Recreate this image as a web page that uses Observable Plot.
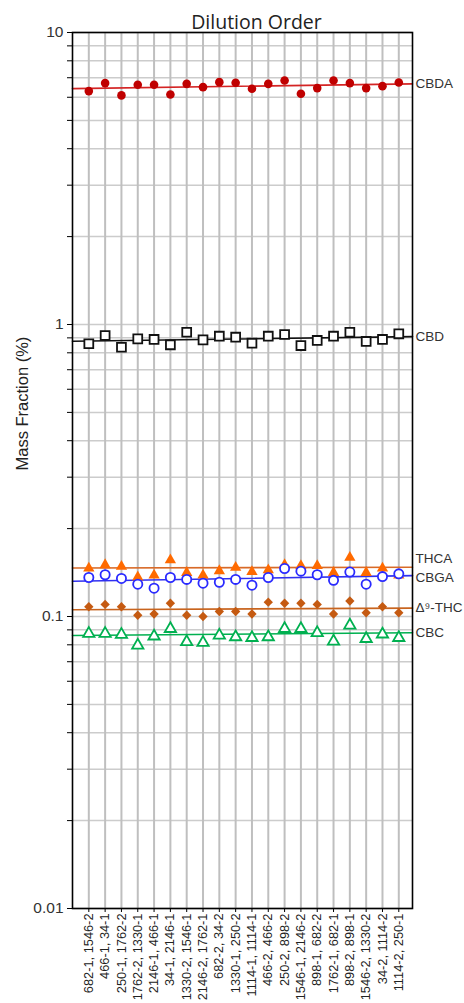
<!DOCTYPE html>
<html><head><meta charset="utf-8">
<script src="https://cdn.jsdelivr.net/npm/d3@7"></script>
<script src="https://cdn.jsdelivr.net/npm/@observablehq/plot@0.6"></script>
<style>body{margin:0;background:#fff;} #chart svg{display:block;}</style>
</head><body><div id="chart"></div>
<script>
const categories = ["682-1, 1546-2","466-1, 34-1","250-1, 1762-2","1762-2, 1330-1","2146-1, 466-1","34-1, 2146-1","1330-2, 1546-1","2146-2, 1762-1","682-2, 34-2","1330-1, 250-2","1114-1, 1114-1","466-2, 466-2","250-2, 898-2","1546-1, 2146-2","898-1, 682-2","1762-1, 682-1","898-2, 898-1","1546-2, 1330-2","34-2, 1114-2","1114-2, 250-1"];
const cbda = [6.30,6.71,6.09,6.62,6.62,6.13,6.67,6.50,6.76,6.73,6.42,6.67,6.85,6.17,6.45,6.85,6.71,6.45,6.55,6.74];
const cbd  = [0.859,0.917,0.836,0.893,0.889,0.852,0.941,0.886,0.912,0.905,0.863,0.912,0.924,0.847,0.882,0.912,0.941,0.875,0.889,0.929];
const thca = [0.148,0.152,0.150,0.138,0.140,0.158,0.143,0.140,0.145,0.149,0.144,0.146,0.152,0.151,0.151,0.143,0.161,0.143,0.148,0.140];
const cbga = [0.136,0.139,0.135,0.129,0.125,0.136,0.134,0.130,0.131,0.134,0.128,0.136,0.146,0.143,0.139,0.133,0.142,0.129,0.137,0.140];
const thc  = [0.108,0.110,0.108,0.101,0.102,0.111,0.101,0.100,0.104,0.104,0.102,0.112,0.111,0.111,0.110,0.102,0.113,0.103,0.108,0.103];
const cbc  = [0.0884,0.0884,0.0877,0.0806,0.0866,0.0919,0.0828,0.0823,0.0872,0.0861,0.0856,0.0861,0.0919,0.0919,0.0889,0.0832,0.0944,0.0849,0.0880,0.0856];
const seriesNames = ["CBDA","CBD","THCA","CBGA","Δ⁹-THC","CBC"];
const yTickLabels = ["0.01","0.1","1","10"];

const seriesValues = [cbda, cbd, thca, cbga, thc, cbc];
const styles = [
  {symbol:"circle", fill:"#c00000", stroke:"none", r:4.3, line:"#d42424", sw:0, dy:0, ldy:0},
  {symbol:"square", fill:"white", stroke:"#111", r:5, line:"#111", sw:1.8, dy:0, ldy:0},
  {symbol:"triangle", fill:"#ff6a00", stroke:"none", r:4.2, line:"#d86a28", sw:0, dy:1.5, ldy:-9},
  {symbol:"circle", fill:"white", stroke:"#2a2aff", r:4.6, line:"#3030f0", sw:1.8, dy:0, ldy:2},
  {symbol:"diamond2", fill:"#c55a11", stroke:"none", r:4.2, line:"#c8641e", sw:0, dy:0, ldy:0},
  {symbol:"triangle", fill:"white", stroke:"#00b050", r:4.2, line:"#00b050", sw:1.8, dy:1.5, ldy:0}
];
const xMax = 20.84;
const idx = categories.map((_, i) => i + 1);

// least-squares fit on log10 values (Excel-style exponential trendline)
function fit(vals) {
  const xs = idx, ys = vals.map(Math.log10);
  const mx = d3.mean(xs), my = d3.mean(ys);
  const b = d3.sum(xs, (x, i) => (x - mx) * (ys[i] - my)) / d3.sum(xs, x => (x - mx) ** 2);
  const a = my - b * mx;
  return [0, xMax].map(x => ({x, y: 10 ** (a + b * x)}));
}

const yTicks = [];
for (let e = -2; e <= 0; e++) for (let k = 1; k <= 9; k++) yTicks.push(+(k * 10 ** e).toPrecision(3));
yTicks.push(10);

const marks = [
  Plot.gridY(yTicks, {stroke:"#cccccc", strokeOpacity:1, strokeWidth:1.5}),
  Plot.gridX(idx, {stroke:"#bfbfbf", strokeOpacity:1, strokeWidth:2})
];
const trends = seriesValues.map(fit);
trends.forEach((t, s) => marks.push(Plot.line(t, {x:"x", y:"y", stroke: styles[s].line, strokeWidth:1.6})));
seriesValues.forEach((vals, s) => {
  const st = styles[s];
  marks.push(Plot.dot(vals.map((v, i) => ({x: i + 1, y: v})), {
    x:"x", y:"y", symbol: st.symbol, r: st.r, fill: st.fill, stroke: st.stroke,
    strokeWidth: st.sw, dy: st.dy
  }));
});
seriesNames.forEach((name, s) => {
  const end = trends[s][1];
  marks.push(Plot.text([name], {x: () => xMax, y: () => end.y, text: d => d, textAnchor:"start",
    dx: 3, dy: styles[s].ldy, fontSize: 13.5, fill:"#333"}));
});
marks.push(
  Plot.frame({stroke:"#000", strokeWidth:1.6}),
  Plot.axisY(yTicks, {tickSize:5, fontSize:15.5, stroke:"#000", fill:"#333",
    tickFormat: v => { const l = Math.log10(v); return Math.abs(l - Math.round(l)) < 1e-9 ? yTickLabels[Math.round(l) + 2] : ""; },
    label: null}),
  Plot.text(["Mass Fraction (%)"], {frameAnchor:"left", dx:-50, rotate:-90, fontSize:16.5, fill:"#222"}),
  Plot.axisX(idx, {tickSize:4, tickPadding:1, tickRotate:-90, fontSize:12.8, stroke:"#000", fill:"#222",
    tickFormat: i => categories[i - 1], label: null}),
  Plot.text(["Dilution Order"], {frameAnchor:"top", dy:-17, dx:14, fontSize:19.5, fill:"#222",
    fontFamily:"Open Sans"})
);

const chart = Plot.plot({
  width: 464, height: 1003,
  marginLeft: 72, marginRight: 52, marginTop: 32, marginBottom: 95,
  style: {fontFamily: "Liberation Sans, Arial, sans-serif", color:"#222", background:"white"},
  x: {type:"linear", domain:[0, xMax]},
  y: {type:"log", domain:[0.01, 10]},
  marks
});
document.getElementById("chart").appendChild(chart);
</script>
</body></html>
